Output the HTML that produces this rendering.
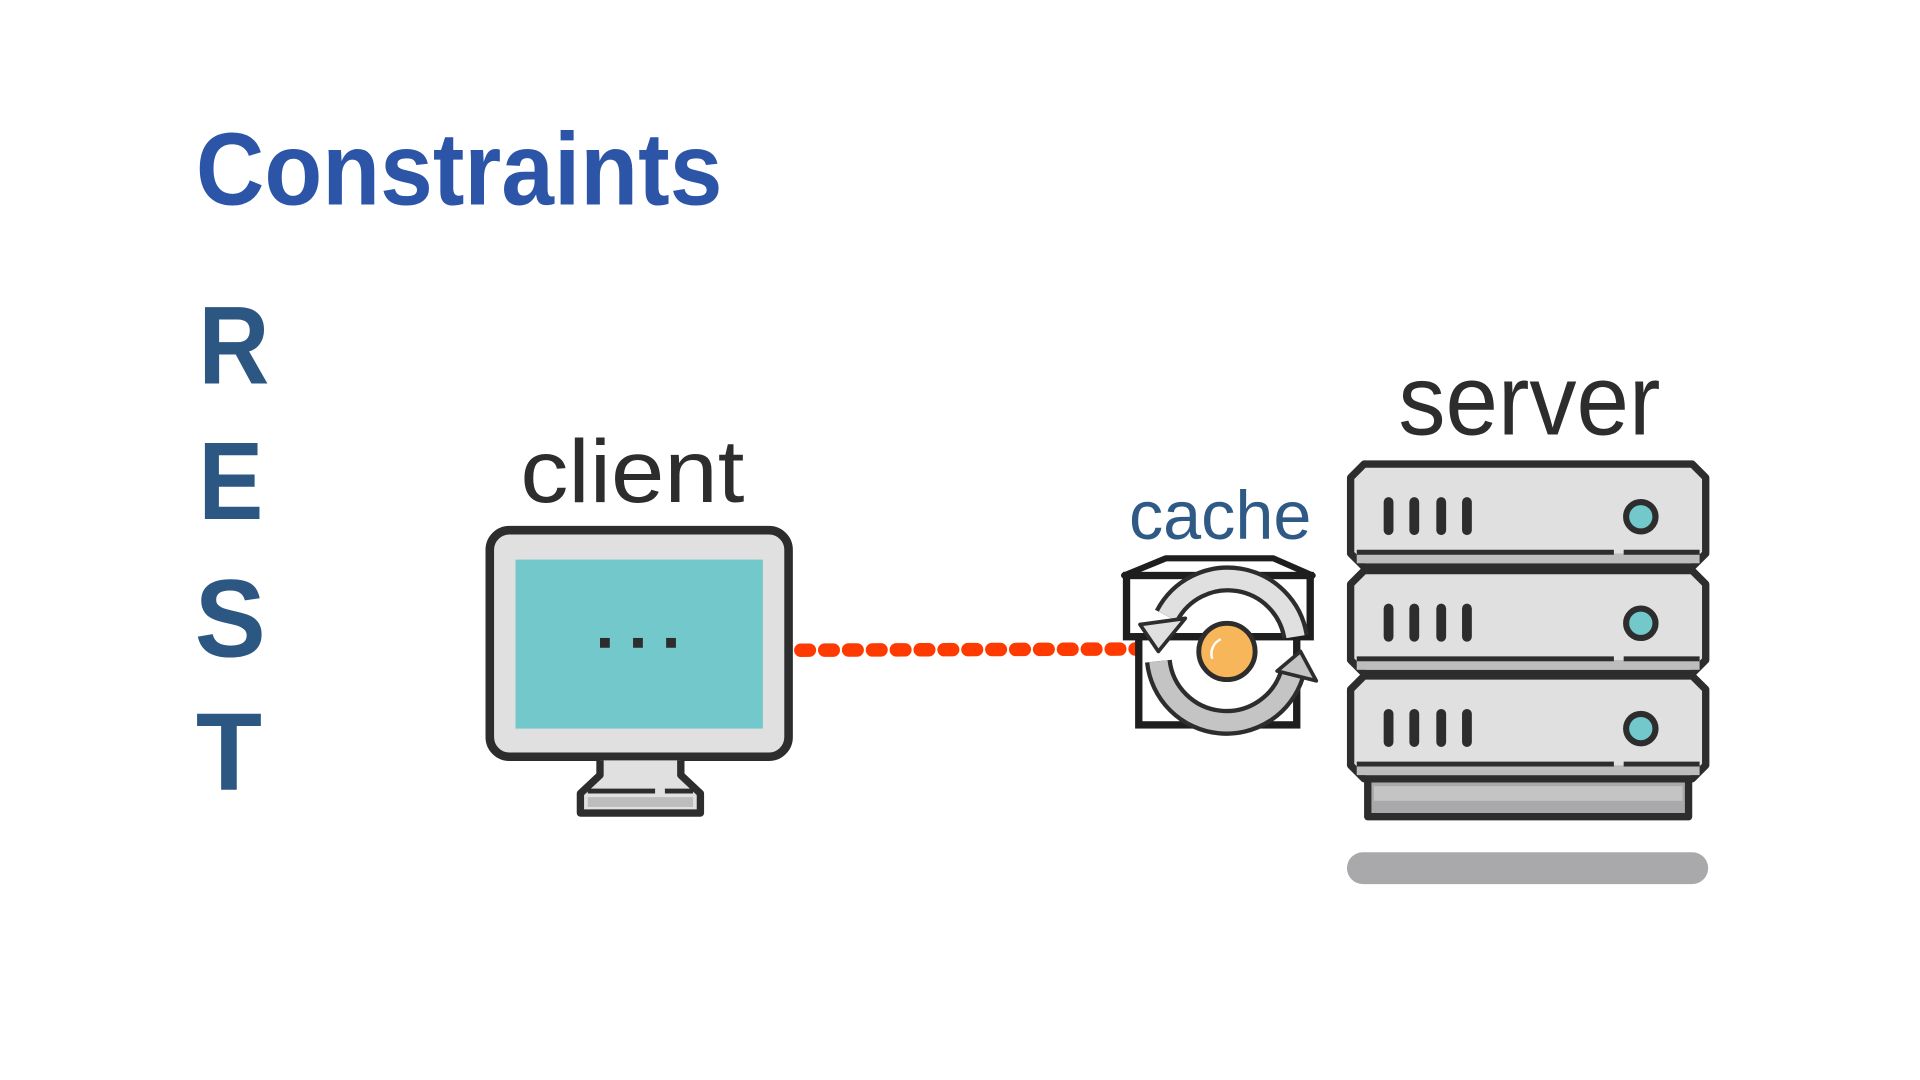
<!DOCTYPE html>
<html><head><meta charset="utf-8"><style>
html,body{margin:0;padding:0;background:#fff;width:1920px;height:1080px;overflow:hidden}
svg{display:block}
</style></head><body>
<svg width="1920" height="1080" viewBox="0 0 1568 882" xmlns="http://www.w3.org/2000/svg" font-family="Liberation Sans, Arial, sans-serif">
<rect width="1568" height="882" fill="#fff"/>
<text x="160" y="167" font-size="84" font-weight="bold" fill="#2c55a8" textLength="430" lengthAdjust="spacingAndGlyphs">Constraints</text>
<g font-size="90" font-weight="bold" fill="#2c5782">
<text x="162" y="313" textLength="58" lengthAdjust="spacingAndGlyphs">R</text>
<text x="162" y="424" textLength="53" lengthAdjust="spacingAndGlyphs">E</text>
<text x="159" y="536" textLength="58" lengthAdjust="spacingAndGlyphs">S</text>
<text x="160" y="645" textLength="54" lengthAdjust="spacingAndGlyphs">T</text>
</g>
<text x="425" y="410" font-size="73" fill="#2d2d2d" textLength="183" lengthAdjust="spacingAndGlyphs">client</text>
<text x="922" y="440" font-size="56" fill="#2f5a85" textLength="149" lengthAdjust="spacingAndGlyphs">cache</text>
<text x="1142" y="355" font-size="82" fill="#2d2d2d" textLength="214" lengthAdjust="spacingAndGlyphs">server</text>

<!-- client monitor -->
<rect x="400" y="433" width="244" height="185" rx="16" fill="#e0e0e0" stroke="#2d2d2d" stroke-width="7"/>
<rect x="421" y="457" width="202" height="138" fill="#72c8cb"/>
<rect x="490" y="521" width="8" height="8" fill="#2d2d2d"/>
<rect x="517" y="521" width="8" height="8" fill="#2d2d2d"/>
<rect x="544" y="521" width="8" height="8" fill="#2d2d2d"/>
<path d="M490 621 V633 L474 648 V664 H572 V648 L556 633 V621" fill="#e0e0e0" stroke="#2d2d2d" stroke-width="6" stroke-linejoin="round"/>
<rect x="480" y="651" width="86" height="8" fill="#bdbdbd"/>
<line x1="480" y1="646" x2="535" y2="646" stroke="#2d2d2d" stroke-width="4"/>
<line x1="543" y1="646" x2="566" y2="646" stroke="#2d2d2d" stroke-width="4"/>

<!-- dotted line -->
<line x1="654" y1="531" x2="930" y2="530" stroke="#ff3a00" stroke-width="11" stroke-linecap="round" stroke-dasharray="7 12.5"/>

<!-- cache -->
<path d="M918 470 L952 456 H1040 L1072 470 Z" fill="#fff" stroke="#1e1e1e" stroke-width="5" stroke-linejoin="round"/>
<rect x="920" y="470" width="150" height="50" fill="#fff" stroke="#1e1e1e" stroke-width="6"/>
<rect x="930" y="520" width="129" height="72" fill="#fff" stroke="#1e1e1e" stroke-width="6"/>
<path d="M1058 520 A56 56 0 0 0 953 503" fill="none" stroke="#2d2d2d" stroke-width="22"/>
<path d="M1058 520 A56 56 0 0 0 953 503" fill="none" stroke="#e0e0e0" stroke-width="15"/>
<polygon points="931,510 968,505 946,532" fill="#e0e0e0" stroke="#2d2d2d" stroke-width="3" stroke-linejoin="round"/>
<path d="M946 540 A56 56 0 0 0 1055 551" fill="none" stroke="#2d2d2d" stroke-width="22"/>
<path d="M946 540 A56 56 0 0 0 1055 551" fill="none" stroke="#c4c4c4" stroke-width="15"/>
<polygon points="1043,548 1075,556 1062,532" fill="#c4c4c4" stroke="#2d2d2d" stroke-width="3" stroke-linejoin="round"/>
<circle cx="1002" cy="532" r="23" fill="#f8b65a" stroke="#2d2d2d" stroke-width="4"/>
<path d="M990 538 A13 13 0 0 1 997 522" fill="none" stroke="#fff" stroke-width="2"/>

<!-- server -->
<rect x="1117" y="630" width="262" height="37" fill="#a9a9ab" stroke="#2d2d2d" stroke-width="6" stroke-linejoin="round"/>
<rect x="1122" y="642" width="252" height="12" fill="#c4c4c4"/>
<g id="u">
<path d="M1114 379 H1382 L1393 390 V452 L1382 463 H1114 L1103 452 V390 Z" fill="#e0e0e0" stroke="#2d2d2d" stroke-width="6" stroke-linejoin="round"/>
<rect x="1108" y="452" width="280" height="8" fill="#bdbdbd"/>
<line x1="1108" y1="451" x2="1318" y2="451" stroke="#2d2d2d" stroke-width="4"/>
<line x1="1326" y1="451" x2="1388" y2="451" stroke="#2d2d2d" stroke-width="4"/>
<g stroke="#2d2d2d" stroke-width="8" stroke-linecap="round">
<line x1="1134" y1="410" x2="1134" y2="433"/>
<line x1="1155" y1="410" x2="1155" y2="433"/>
<line x1="1177" y1="410" x2="1177" y2="433"/>
<line x1="1198" y1="410" x2="1198" y2="433"/>
</g>
<circle cx="1340" cy="422" r="12" fill="#72c8cb" stroke="#2d2d2d" stroke-width="5"/>
</g>
<use href="#u" y="87"/>
<use href="#u" y="173"/>
<rect x="1100" y="696" width="295" height="26" rx="13" fill="#a9a9ab"/>
</svg>
</body></html>
